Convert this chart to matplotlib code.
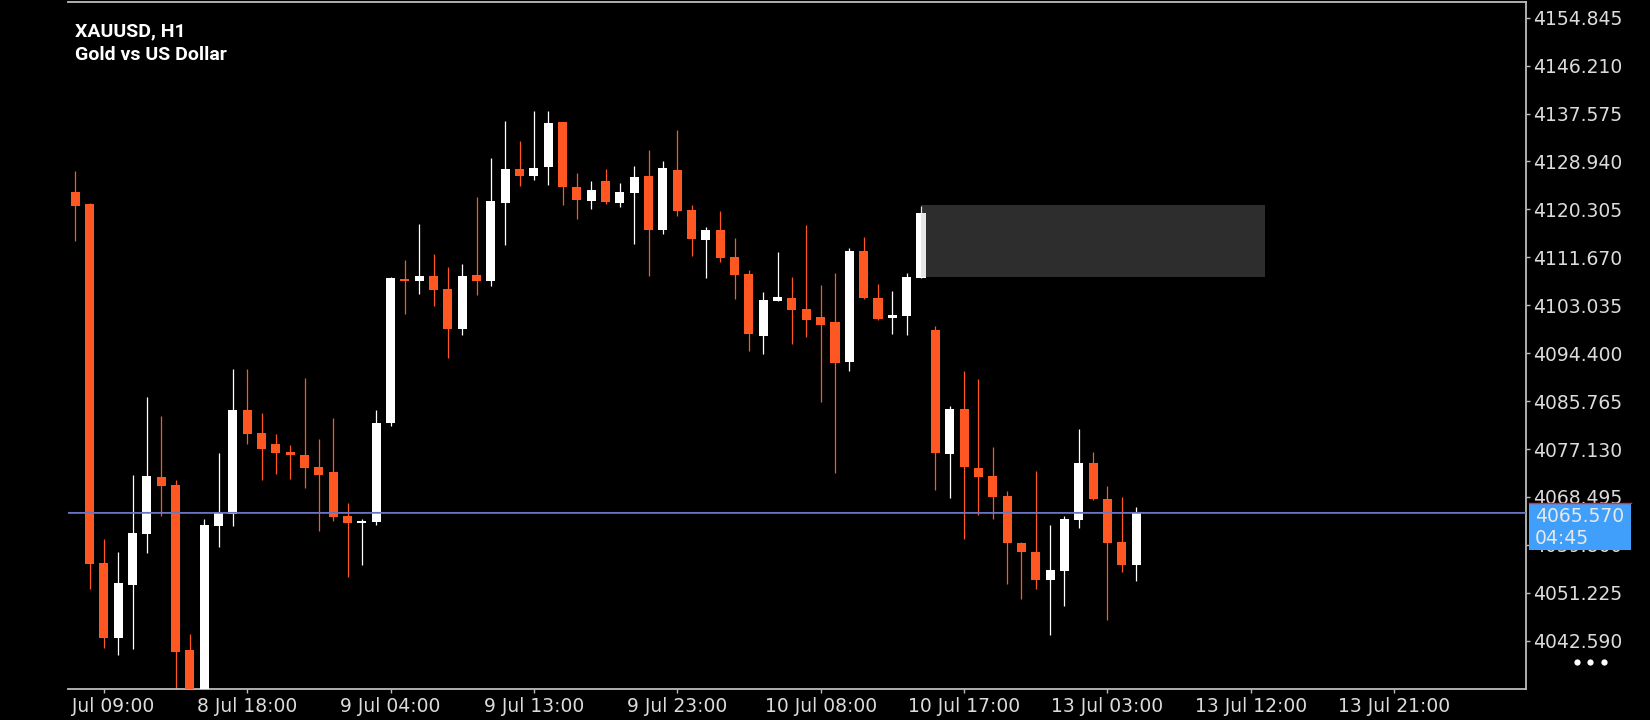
import numpy as np
import matplotlib.pyplot as plt
from matplotlib.patches import Rectangle
from matplotlib.lines import Line2D
from matplotlib.transforms import Bbox, TransformedBbox

# ==========================================
# Data: XAUUSD H1 candles
# ==========================================
opens = [4123.50, 4121.34, 4056.57, 4043.14, 4052.62, 4061.79, 4072.05, 4070.61, 4040.92, 4032.11,
         4063.23, 4065.39, 4084.10, 4079.96, 4077.98, 4076.54, 4076.00, 4073.85, 4072.95, 4065.03,
         4063.77, 4063.95, 4081.76, 4107.85, 4107.49, 4108.39, 4106.05, 4098.67, 4108.57, 4107.49,
         4121.52, 4127.64, 4126.38, 4128.00, 4136.09, 4124.40, 4121.88, 4125.48, 4121.52, 4123.32,
         4126.38, 4116.66, 4127.46, 4120.26, 4114.86, 4116.66, 4111.80, 4108.75, 4097.41, 4103.89,
         4104.43, 4102.45, 4100.83, 4099.93, 4092.73, 4112.88, 4104.43, 4100.65, 4101.01, 4108.03,
         4098.49, 4076.18, 4084.28, 4073.67, 4072.23, 4068.63, 4060.17, 4058.55, 4053.52, 4055.14,
         4064.31, 4074.57, 4068.09, 4060.35, 4056.22]
highs = [4127.28, 4121.40, 4060.89, 4058.55, 4072.41, 4086.44, 4083.02, 4071.51, 4043.80, 4064.49,
         4076.36, 4091.48, 4091.48, 4083.56, 4079.78, 4077.80, 4089.86, 4078.88, 4082.66, 4067.37,
         4064.49, 4084.10, 4108.21, 4111.26, 4117.74, 4112.34, 4110.01, 4110.55, 4122.60, 4129.61,
         4136.27, 4132.67, 4138.07, 4138.07, 4136.09, 4126.92, 4125.48, 4127.64, 4125.12, 4128.18,
         4131.05, 4129.07, 4134.65, 4121.16, 4117.20, 4120.08, 4115.22, 4109.47, 4105.51, 4112.70,
         4108.21, 4117.56, 4106.77, 4108.93, 4113.42, 4115.40, 4106.95, 4105.69, 4108.93, 4120.98,
         4099.21, 4084.82, 4091.12, 4089.68, 4077.44, 4069.53, 4060.35, 4073.13, 4063.41, 4065.03,
         4080.68, 4076.54, 4070.43, 4068.45, 4066.65]
lows = [4114.56, 4051.90, 4041.28, 4040.02, 4041.10, 4058.37, 4065.08, 4033.01, 4031.21, 4031.21,
        4059.51, 4063.29, 4077.98, 4071.56, 4072.59, 4071.69, 4070.07, 4062.33, 4064.13, 4054.06,
        4056.22, 4063.41, 4081.28, 4101.37, 4105.15, 4102.99, 4093.45, 4097.59, 4104.97, 4106.59,
        4113.96, 4124.58, 4125.66, 4124.76, 4121.16, 4118.64, 4120.44, 4121.34, 4120.80, 4114.14,
        4108.39, 4115.94, 4119.18, 4111.98, 4108.03, 4110.90, 4104.25, 4094.71, 4094.17, 4103.80,
        4095.97, 4097.23, 4085.59, 4072.82, 4091.12, 4104.25, 4100.29, 4097.77, 4097.59, 4107.95,
        4069.76, 4068.32, 4060.89, 4065.21, 4064.49, 4052.80, 4050.10, 4051.90, 4043.62, 4048.84,
        4062.87, 4068.00, 4046.32, 4054.96, 4053.34]
closes = [4120.98, 4056.45, 4043.14, 4052.98, 4061.97, 4072.23, 4070.43, 4040.56, 4032.11, 4063.41,
          4065.57, 4084.10, 4079.78, 4077.08, 4076.36, 4076.00, 4073.67, 4072.41, 4064.85, 4063.77,
          4064.13, 4081.76, 4108.03, 4107.49, 4108.39, 4105.87, 4098.67, 4108.39, 4107.49, 4121.88,
          4127.64, 4126.38, 4127.82, 4135.91, 4124.40, 4122.06, 4123.86, 4121.70, 4123.50, 4126.20,
          4116.66, 4127.82, 4120.08, 4115.04, 4116.66, 4111.62, 4108.57, 4097.77, 4104.07, 4104.61,
          4102.27, 4100.29, 4099.39, 4092.56, 4112.88, 4104.43, 4100.47, 4101.19, 4108.21, 4119.72,
          4076.42, 4084.28, 4073.85, 4072.05, 4068.45, 4060.17, 4058.55, 4053.52, 4055.32, 4064.49,
          4074.57, 4068.09, 4060.17, 4056.22, 4065.57]

# time labels every 10 bars, starting at bar 2
time_labels = ['8 Jul 09:00', '8 Jul 18:00', '9 Jul 04:00', '9 Jul 13:00', '9 Jul 23:00',
               '10 Jul 08:00', '10 Jul 17:00', '13 Jul 03:00', '13 Jul 12:00', '13 Jul 21:00']
price_ticks = [4154.845, 4146.210, 4137.575, 4128.940, 4120.305, 4111.670, 4103.035,
               4094.400, 4085.765, 4077.130, 4068.495, 4059.860, 4051.225, 4042.590]

bid_price = 4065.57
ask_price = 4065.79
countdown = '04:45'

# grey zone drawn from the bar before the drop
zone_start, zone_end = 59, 83
zone_bottom, zone_top = 4108.1, 4121.1

# ==========================================
# Figure
# ==========================================
W, H = 1650, 720
BULL = '#ffffff'
BEAR = '#ff5722'
FRAME = '#bdbdbd'
LABEL = '#dcdcdc'

fig = plt.figure(figsize=(W / 100, H / 100), dpi=100, facecolor='black')
# axes box in pixels: left 68, right 1526, top 2, bottom 689
ax = fig.add_axes([68 / W, 1 - 689 / H, (1526 - 68) / W, (689 - 2) / H])
ax.set_facecolor('black')

o = np.array(opens)
c = np.array(closes)
idx = np.arange(len(o))
cols = [BULL if cc >= oo else BEAR for oo, cc in zip(o, c)]
body_lo = np.minimum(o, c)
body_h = np.maximum(np.abs(c - o), 0.3)

ax.vlines(idx, lows, highs, colors=cols, linewidth=0.9, zorder=2)
ax.bar(idx, body_h, bottom=body_lo, width=0.63, color=cols, linewidth=0, zorder=3)

# zone box (semi transparent so the candle under it shows lighter)
ax.add_patch(Rectangle((zone_start, zone_bottom), zone_end - zone_start, zone_top - zone_bottom,
                       facecolor=(0.65, 0.64, 0.65), alpha=0.28, linewidth=0, zorder=4))

# bid / ask lines
ax.axhline(ask_price, color='#ff1f1f', linewidth=0.8, zorder=5)
ax.axhline(bid_price, color='#3d8ef5', linewidth=1.1, zorder=5)

ax.set_xlim(-0.5, 101.2)
ax.set_ylim(4033.9, 4157.67)

ax.set_xticks(range(2, 2 + 10 * len(time_labels), 10))
ax.set_xticklabels(time_labels)
ax.yaxis.tick_right()
ax.set_yticks(price_ticks)
ax.set_yticklabels([f'{p:.3f}' for p in price_ticks])
ax.tick_params(axis='both', colors=FRAME, labelcolor=LABEL, length=3, width=1,
               labelsize=13.5)
ax.tick_params(axis='y', pad=2)
ax.tick_params(axis='x', pad=3)

for side in ['top', 'right', 'bottom']:
    ax.spines[side].set_color(FRAME)
    ax.spines[side].set_linewidth(1.3)
ax.spines['left'].set_visible(False)

# first date label is cut by the left edge of the chart
clip = TransformedBbox(Bbox([[68 / W, 0], [1, 1]]), fig.transFigure)
for lbl in ax.get_xticklabels():
    lbl.set_clip_box(clip)
    lbl.set_clip_on(True)

# symbol title
fig.text(75 / W, 1 - 36 / H, 'XAUUSD, H1', fontfamily='Roboto', fontweight='bold',
         fontsize=14, color='white', va='baseline')
fig.text(75 / W, 1 - 60 / H, 'Gold vs US Dollar', fontfamily='Roboto', fontweight='bold',
         fontsize=14, color='white', va='baseline')

# current price tag on the price scale
fig.add_artist(Rectangle((1528.6 / W, 1 - 550 / H), (1630.7 - 1528.6) / W, 47 / H,
                         transform=fig.transFigure, facecolor='#3f9ffa', linewidth=0))
fig.add_artist(Line2D([1528.6 / W, 1630.7 / W], [1 - 503 / H, 1 - 503 / H],
                      transform=fig.transFigure, color='#ff1f1f', linewidth=1))
fig.text(1535 / W, 1 - 517 / H, f'{bid_price:.3f}', va='center', color='#e8e8e8', fontsize=13.5)
fig.text(1535 / W, 1 - 539 / H, countdown, va='center', color='#e8e8e8', fontsize=13.5)

# menu dots
fig.add_artist(Line2D([1577 / W, 1590 / W, 1604 / W], [1 - 662 / H] * 3,
                      transform=fig.transFigure, linestyle='none', marker='o',
                      markersize=4.5, markeredgewidth=0, color='white'))

fig.savefig('out.png', dpi=100, facecolor='black')
